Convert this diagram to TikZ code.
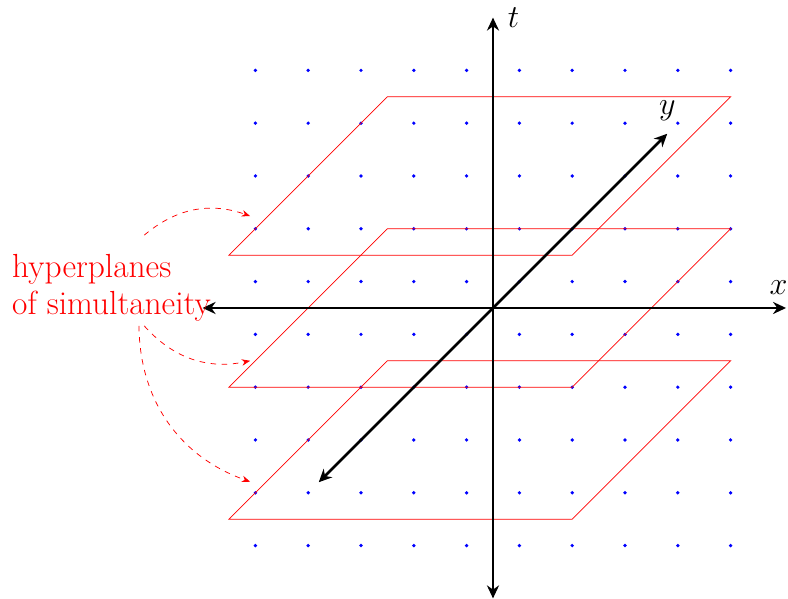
\documentclass[tikz,border=0pt]{standalone}
\usetikzlibrary{positioning,arrows.meta}
\begin{document}
\begin{tikzpicture}[
  every node/.style = {font=\fontsize{16.5}{20}\selectfont},
  axis/.style  = {{Stealth[length=7pt,width=6.5pt]}-{Stealth[length=7pt,width=6.5pt]},
                  line width=1.4pt, black},
  plane/.style = {red, thin},
  simul/.style = {-{Stealth[length=4.5pt,width=3.5pt]}, red, dashed},
]

%% ── Frame (fixes the margins) ────────────────────────────────────────────────
\useasboundingbox (-9.337,-5.511) rectangle (5.587,5.833);

%% ── Plane geometry ───────────────────────────────────────────────────────────
\def\xF{-5}     % front-left corner, x
\def\wP{6.5}    % width along x
\def\dP{3}      % oblique depth (dx = dy)

%% ── Lattice of events (blue dots at half-integer points) ─────────────────────
\foreach \i in {-4.5,-3.5,...,4.5}{
  \foreach \j in {-4.5,-3.5,...,4.5}{
    \fill[blue] (\i,\j) circle (1pt);
  }
}

%% ── Hyperplanes of simultaneity ──────────────────────────────────────────────
\foreach \yf in {1,-1.5,-4}{
  \draw[plane] (\xF,\yf) -- ++(\wP,0) -- ++(\dP,\dP) -- ++(-\wP,0) -- cycle;
}

%% ── Axes ─────────────────────────────────────────────────────────────────────
\coordinate (xL) at (-5.5,0);
\coordinate (xR) at (5.55,0);
\coordinate (tB) at (0,-5.5);
\coordinate (tT) at (0,5.5);
\coordinate (yB) at (-3.3,-3.3);
\coordinate (yT) at (3.3,3.3);

\draw[axis] (xL) -- (xR) node[above=3pt, xshift=-4pt] (xlab) {$x$};
\draw[axis] (tB) -- (tT) node[right=4pt] (tlab) {$t$};
\draw[axis] (yB) -- (yT) node[above=3pt] (ylab) {$y$};

%% ── Label and pointers ───────────────────────────────────────────────────────
\node[red, align=left, anchor=west, font=\fontsize{18}{20}\selectfont]
  (hyp) at (-9.23,0.38) {hyperplanes\\of simultaneity};

\coordinate (tgtA) at (-4.6,1.74);
\coordinate (tgtB) at (-4.6,-1.0);
\coordinate (tgtC) at (-4.6,-3.29);

\draw[simul] ([shift={(0.62,0.24)}]hyp.north) to[bend left=30]  (tgtA);
\draw[simul] ([shift={(0.62,0.04)}]hyp.south) to[bend right=30] (tgtB);
\draw[simul] ([shift={(0.52,0.04)}]hyp.south) to[bend right=35] (tgtC);

\end{tikzpicture}
\end{document}
